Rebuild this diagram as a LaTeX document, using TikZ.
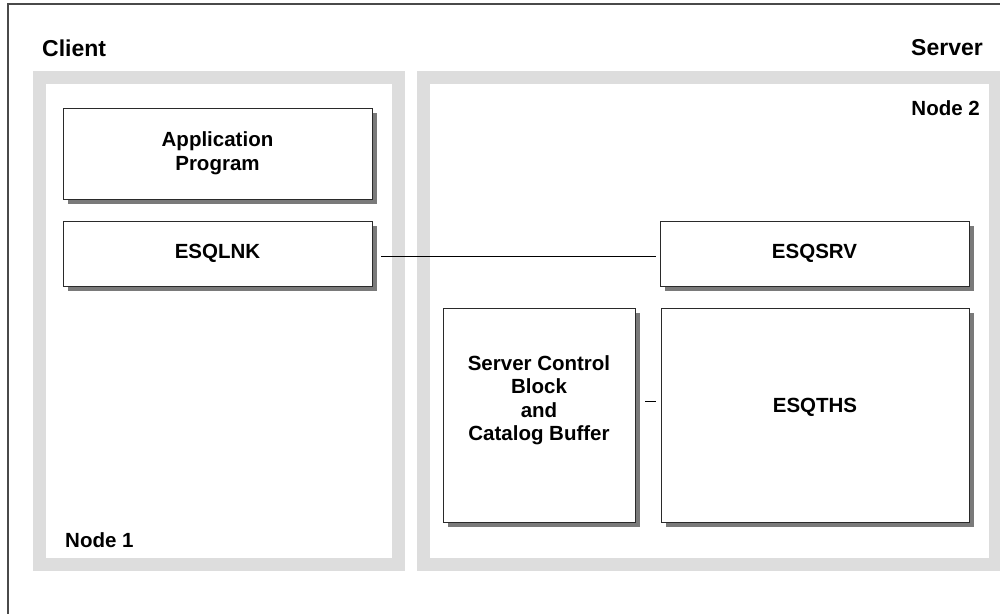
\documentclass[tikz,border=0pt]{standalone}
\usepackage{fontspec}
\setmainfont{Liberation Sans}
\usetikzlibrary{shadows}
\definecolor{panelgray}{HTML}{DDDDDD}
\definecolor{shadowgray}{HTML}{7A7A7A}
\definecolor{framegray}{HTML}{4A4A4A}
\definecolor{edgegray}{HTML}{2A2A2A}
\tikzset{
  panel/.style={fill=panelgray, draw=none},
  panelinner/.style={fill=white, draw=none},
  block/.style={rectangle, draw=edgegray, line width=0.9pt, fill=white,
    inner sep=0pt, align=center,
    font=\bfseries\fontsize{20.5}{24}\selectfont,
    general shadow={fill=shadowgray, shadow xshift=5pt, shadow yshift=-5pt}},
  blocktext/.style={align=center, inner sep=0pt,
    font=\bfseries\fontsize{20.5}{23.5}\selectfont},
  title/.style={inner sep=0pt, font=\bfseries\fontsize{23}{27}\selectfont},
  tag/.style={inner sep=0pt, font=\bfseries\fontsize{20.5}{24}\selectfont},
  link/.style={draw=black, line width=0.8pt}
}
\begin{document}
\begin{tikzpicture}[x=1pt, y=-1pt]
  \useasboundingbox (0,0) rectangle (1000,613);
  \clip (0,0) rectangle (1000,613);

  % outer frame (top and left edges)
  \draw[framegray, line width=1.4pt] (8,620) -- (8,4) -- (1010,4);

  % client and server panels
  \fill[panel] (33,71) rectangle (405,571);
  \fill[panelinner] (46,84) rectangle (392,558);
  \fill[panel] (417,71) rectangle (1002,571);
  \fill[panelinner] (430,84) rectangle (989,558);

  % headings
  \node[title, anchor=base west] (client) at (42,56) {Client};
  \node[title, anchor=base east] (server) at (983,55) {Server};
  \node[tag, anchor=base west] (node1) at (65,547) {Node 1};
  \node[tag, anchor=base east] (node2) at (980,115) {Node 2};

  % client blocks
  \node[block, minimum width=309pt, minimum height=91pt] (app) at (217.5,153.5)
    {Application\\Program};
  \node[block, minimum width=309pt, minimum height=65pt] (lnk) at (217.5,253.5)
    {ESQLNK};

  % server blocks
  \node[block, minimum width=309pt, minimum height=65pt] (srv) at (814.5,253.5)
    {ESQSRV};
  \node[block, minimum width=192pt, minimum height=214pt] (scb) at (539,415) {};
  \node[block, minimum width=308pt, minimum height=214pt] (ths) at (815,415) {};
  \node[blocktext] (scbtext) at (539,400)
    {Server Control\\Block\\and\\Catalog Buffer};
  \node[blocktext] (thstext) at (815,407) {ESQTHS};

  % connections
  \draw[link, shorten <=9pt, shorten >=4pt]
    ([yshift=-2.5pt]lnk.east) -- ([yshift=-2.5pt]srv.west);
  \draw[link, shorten <=10pt, shorten >=5pt]
    ([yshift=14pt]scb.east) -- ([yshift=14pt]ths.west);
\end{tikzpicture}
\end{document}
